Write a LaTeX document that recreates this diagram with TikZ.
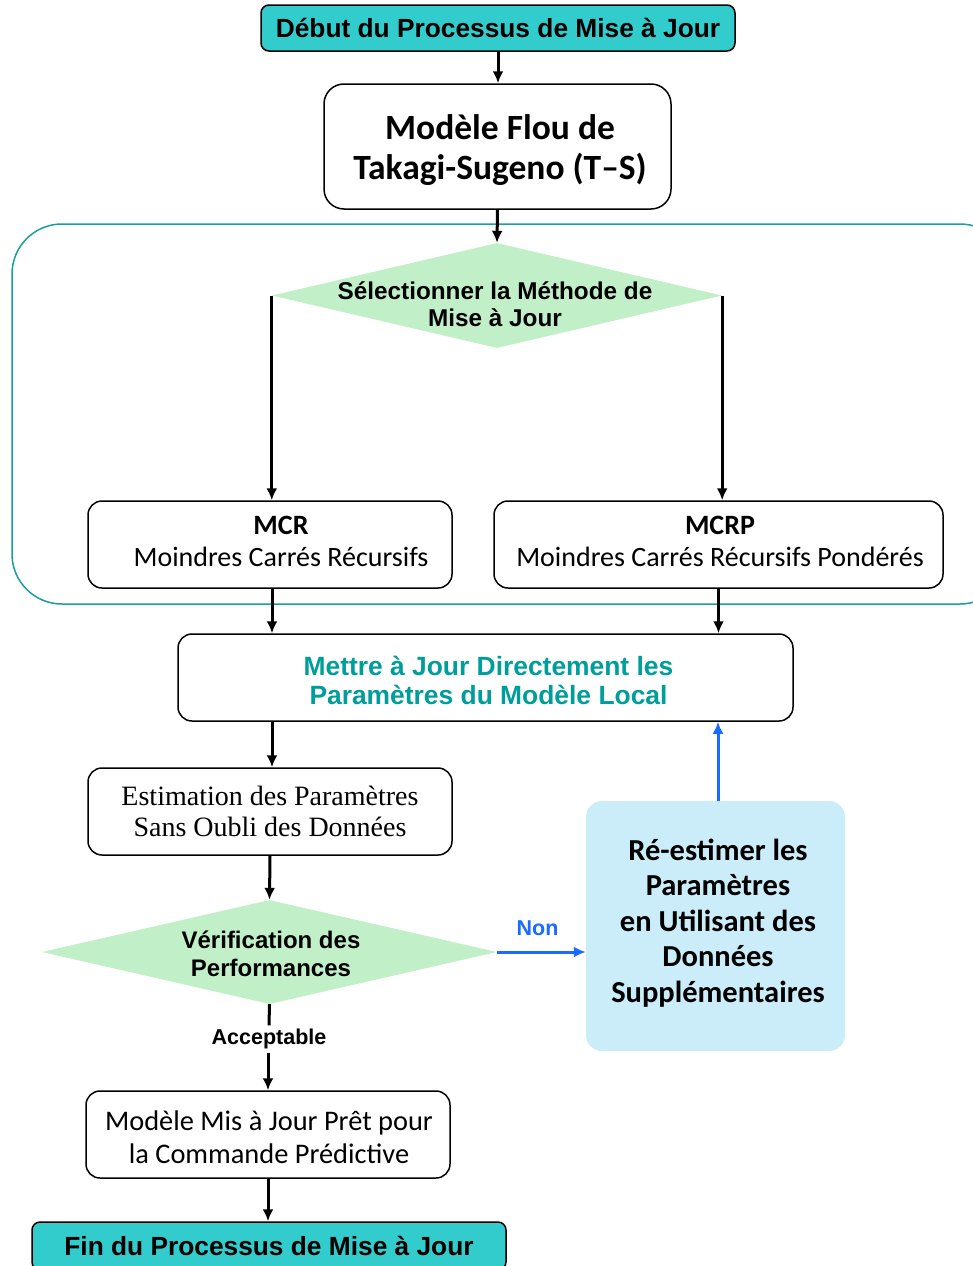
\documentclass[tikz,border=0pt]{standalone}
\usepackage{fontspec}
\setmainfont{Liberation Sans}
\newfontfamily\carl{Carlito}
\newfontfamily\tms{Liberation Serif}
\usetikzlibrary{shapes.geometric,arrows.meta,calc}
\definecolor{termfill}{HTML}{33CCCC}
\definecolor{groupline}{HTML}{1A9E9E}
\definecolor{decfill}{HTML}{C1EFC8}
\definecolor{tealtext}{HTML}{009E9A}
\definecolor{redofill}{HTML}{CBEDFA}
\definecolor{loopblue}{HTML}{1A6BFF}
\begin{document}
\begin{tikzpicture}[x=1pt,y=-1pt,
  terminal/.style={draw=black, line width=1.5pt, fill=termfill, rounded corners=8pt,
    inner sep=0pt, font=\bfseries\fontsize{26.3}{30}\selectfont},
  procbox/.style={draw=black, line width=1.5pt, fill=white, rounded corners=14pt,
    inner sep=0pt, align=center},
  decision/.style={diamond, fill=decfill, inner sep=0pt},
  dtext/.style={align=center, font=\bfseries\fontsize{24.3}{27}\selectfont},
  flow/.style={line width=3pt, -{Latex[length=12pt,width=11pt]}},
  bluflow/.style={line width=3pt, draw=loopblue, -{Latex[length=12pt,width=11pt]}},
  lbl/.style={font=\bfseries\fontsize{21.5}{24}\selectfont}
]
\useasboundingbox (0,0) rectangle (972,1266);

% method selection group
\draw[groupline, line width=1.5pt, rounded corners=50pt] (12,224) rectangle (1010,604);

% nodes
\node[terminal, minimum width=474, minimum height=46] (start) at (498,28) {Début du Processus de Mise à Jour};
\node[procbox, rounded corners=20pt, minimum width=347, minimum height=125] (ts) at (497.5,146.5) {};
\node[align=center, font=\carl\bfseries\fontsize{35.5}{40}\selectfont] (tst) at (500,150) {Modèle Flou de\\Takagi-Sugeno (T–S)};

\node[decision, minimum width=450, minimum height=105] (d1) at (497,295.5) {};
\node[dtext] (d1t) at (495,304) {Sélectionner la Méthode de\\Mise à Jour};

\node[procbox, minimum width=364, minimum height=87] (mcr) at (270,544.5) {};
\node[align=center, font=\carl\fontsize{28}{32}\selectfont] (mcrt) at (281,541.5) {\textbf{MCR}\\Moindres Carrés Récursifs};
\node[procbox, minimum width=449, minimum height=87] (mcrp) at (718.5,544.5) {};
\node[align=center, font=\carl\fontsize{28}{32}\selectfont] (mcrpt) at (720,541.5) {\textbf{MCRP}\\Moindres Carrés Récursifs Pondérés};

\node[procbox, minimum width=615, minimum height=87] (maj) at (485.5,677.5) {};
\node[align=center, text=tealtext, font=\bfseries\fontsize{26.4}{29}\selectfont] (majt) at (488.5,680)
  {Mettre à Jour Directement les\\Paramètres du Modèle Local};

\node[procbox, minimum width=364, minimum height=87,
  font=\tms\fontsize{28}{31}\selectfont] (est) at (270,811.5) {Estimation des Paramètres\\Sans Oubli des Données};

\node[decision, minimum width=455, minimum height=104] (d2) at (269.5,952) {};
\node[dtext, font=\bfseries\fontsize{24}{28}\selectfont] (d2t) at (271,954) {Vérification des\\Performances};

\node[fill=redofill, rounded corners=16pt, minimum width=259, minimum height=250, inner sep=0pt] (redo) at (715.5,926) {};
\node[align=center, font=\carl\bfseries\fontsize{30.5}{35.5}\selectfont] (redot) at (718,923)
  {Ré-estimer les\\Paramètres\\en Utilisant des\\Données\\Supplémentaires};

\node[procbox, minimum width=364, minimum height=87] (ready) at (268,1134.5) {};
\node[align=center, font=\carl\fontsize{28.4}{33}\selectfont] (readyt) at (269,1137)
  {Modèle Mis à Jour Prêt pour\\la Commande Prédictive};

\node[terminal, minimum width=474, minimum height=48] (fin) at (269,1246) {Fin du Processus de Mise à Jour};

% connectors
\draw[flow] (start.south) -- (start.south |- ts.north);
\draw[flow] (ts.south) -- (d1.north);
\draw[flow] (d1.west) -- (d1.west |- mcr.north);
\draw[flow] (d1.east) -- (d1.east |- mcrp.north);
\draw[flow] ([xshift=2pt]mcr.south) -- ([xshift=2pt]mcr.south |- maj.north);
\draw[flow] (mcrp.south) -- (mcrp.south |- maj.north);
\draw[flow] ([xshift=2pt]est.north |- maj.south) -- ([xshift=2pt]est.north);
\draw[flow] (est.south) -- (d2.north);
\draw[bluflow] (d2.east) -- node[lbl, text=loopblue, above=11pt, xshift=-4pt] {Non} (d2.east -| redo.west);
\draw[bluflow] ([xshift=2.5pt]redo.north) -- ([xshift=2.5pt]redo.north |- maj.south);
\node[lbl] (acc) at (269,1039) {Acceptable};
\draw[line width=3pt] (d2.south) -- (acc.north);
\draw[flow] (ready.north |- acc.south) -- (ready.north);
\draw[flow] (ready.south) -- (ready.south |- fin.north);
\end{tikzpicture}
\end{document}
